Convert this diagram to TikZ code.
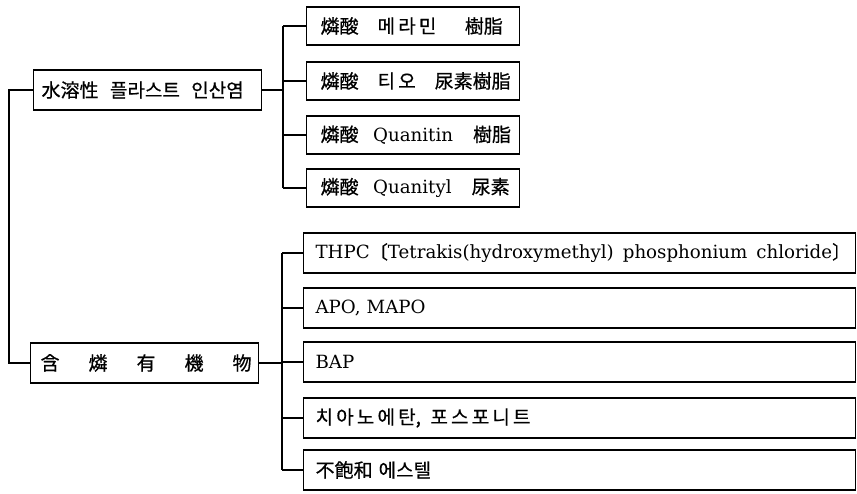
\documentclass[tikz,border=0pt]{standalone}
\usepackage{fontspec}
\setmainfont{DejaVu Serif}
\newfontfamily\kr[FakeBold=0.6]{Noto Sans CJK KR}
\usetikzlibrary{positioning}
\newcommand\kt[1]{{\kr\fontsize{19}{22}\selectfont #1}}
\newcommand\kgap{\hspace{0.6em}}
\tikzset{
leftbox/.style={
  draw, rectangle, anchor=west,
  minimum height=40pt,
  text width=212pt, inner xsep=8pt,
  align=left,
  font=\fontsize{18.2}{21}\selectfont
  },
midbox/.style={leftbox, minimum height=38pt, text width=185pt, inner xsep=14pt},
widebox/.style={leftbox, text width=528pt, inner xsep=12pt}
}

\begin{document}
\begin{tikzpicture}[x=1pt,y=-1pt,line width=1.2pt]
\useasboundingbox (0,0) rectangle (857,494);

% left column
\node[leftbox] (wsp) at (33,90)
  {\mbox{\kt{水溶性\kgap 플라스트\kgap 인산염}}};
\node[leftbox,inner xsep=10pt,text width=208pt] (hp) at (30,363)
  {\mbox{\kt{含\hspace{29pt}燐\hspace{29pt}有\hspace{29pt}機\hspace{29pt}物}}};

% upper list
\node[midbox] (m1) at (306,26)
  {\mbox{\kt{燐酸\hspace{1em}메\,라\,민\hspace{1.5em}樹脂}}};
\node[midbox] (m2) at (306,81)
  {\mbox{\kt{燐酸\hspace{1em}티\,오\hspace{1em}尿素樹脂}}};
\node[midbox] (m3) at (306,135)
  {\mbox{\kt{燐酸}\hspace{0.8em}Quanitin\hspace{1.1em}\kt{樹脂}}};
\node[midbox] (m4) at (306,188)
  {\mbox{\kt{燐酸}\hspace{0.8em}Quanityl\hspace{1.1em}\kt{尿素}}};

% lower list
\node[widebox] (t1) at (303,253)
  {\mbox{THPC{\kr 〔}Tetrakis(hydroxymethyl)\hspace{0.5em}phosphonium\hspace{0.5em}chloride{\kr 〕}}};
\node[widebox] (t2) at (303,308) {\mbox{APO, MAPO}};
\node[widebox] (t3) at (303,362) {\mbox{BAP}};
\node[widebox] (t4) at (303,418) {\mbox{\kt{치\,아\,노\,에\,탄,\hspace{0.5em}포\,스\,포\,니\,트}}};
\node[widebox] (t5) at (303,470) {\mbox{\kt{不飽和 에스텔}}};

% trunk
\draw (wsp.west) -| ([xshift=-21pt]hp.west) -- (hp.west);

% upper fan
\coordinate (u1) at ([xshift=-23pt]m1.west);
\draw (wsp.east) -- (wsp.east -| u1);
\draw (u1) -- (u1 |- m4.west);
\foreach \n in {m1,m2,m3,m4}
  \draw (\n.west) -- (\n.west -| u1);

% lower fan
\coordinate (l1) at ([xshift=-21pt]t1.west);
\draw (hp.east) -- (hp.east -| l1);
\draw (l1) -- (l1 |- t5.west);
\foreach \n in {t1,t2,t3,t4,t5}
  \draw (\n.west) -- (\n.west -| l1);

\end{tikzpicture}
\end{document}
